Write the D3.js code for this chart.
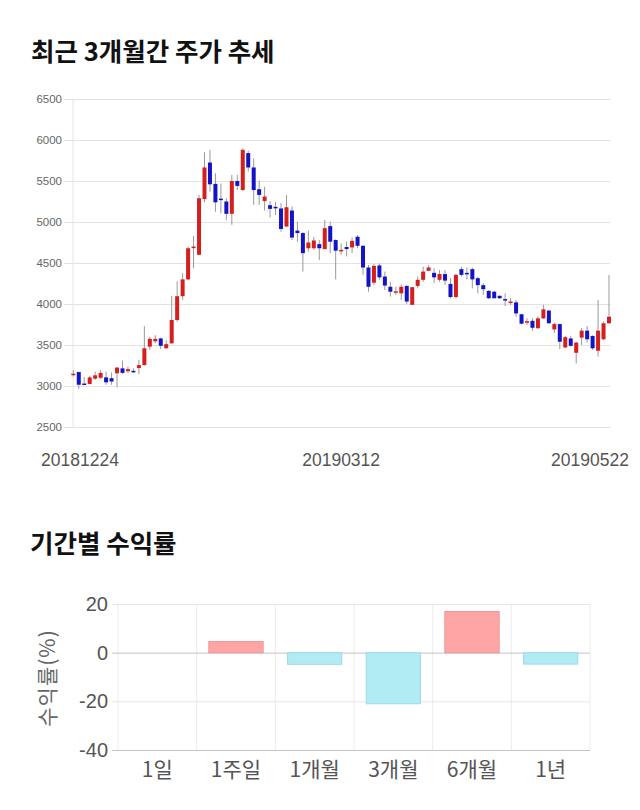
<!DOCTYPE html>
<html><head><meta charset="utf-8">
<script src="https://cdn.jsdelivr.net/npm/d3@7"></script>
<style>body{margin:0;background:#fff} svg{display:block}</style>
</head><body>
<svg id="c" width="640" height="810"></svg>
<script>
const dateLabels = ["20181224","20190312","20190522"];
const dateIdx = [0,49,98];
const opens = [3145,3170,3030,3025,3090,3100,3105,3095,3155,3215,
3180,3185,3220,3255,3480,3545,3580,3460,3520,3805,
4095,4300,4695,4600,5280,5725,5465,5285,5250,5100,
5500,5390,5840,5665,5400,5255,5205,5185,5165,4945,
5140,4895,4865,4680,4680,4730,4670,4950,4780,4660,
4695,4690,4820,4710,4445,4260,4470,4335,4210,4150,
4130,4220,3990,4220,4295,4405,4380,4295,4365,4245,
4085,4425,4380,4425,4315,4230,4160,4150,4100,4060,
4015,4020,3875,3780,3795,3705,3825,3920,3690,3755,
3470,3580,3405,3590,3675,3610,3430,3570,3765];
const closes = [3150,3015,3020,3105,3130,3160,3045,3055,3225,3160,
3205,3180,3255,3460,3575,3575,3490,3510,3805,4095,
4300,4680,4700,5290,5665,5460,5240,5275,5100,5500,
5440,5880,5665,5390,5330,5310,5160,5170,4915,5180,
4810,4865,4620,4750,4775,4680,4925,4760,4650,4660,
4670,4770,4710,4445,4210,4465,4325,4225,4150,4155,
4210,4030,4205,4295,4395,4445,4325,4365,4285,4085,
4355,4355,4370,4300,4230,4180,4070,4070,4070,4045,
4030,3885,3760,3790,3710,3825,3935,3765,3755,3540,
3595,3490,3530,3675,3570,3460,3675,3765,3845];
const highs = [3195,3175,3110,3125,3175,3195,3175,3165,3230,3310,
3235,3215,3320,3730,3600,3620,3590,3560,4100,4275,
4375,4700,4830,5330,5850,5880,5595,5470,5290,5575,
5575,5900,5870,5775,5505,5430,5255,5245,5230,5330,
5190,5005,4880,4895,4820,4780,5025,5005,4790,4740,
4760,4810,4840,4715,4475,4485,4495,4395,4270,4210,
4240,4230,4210,4335,4455,4475,4435,4415,4415,4315,
4370,4455,4445,4445,4335,4255,4170,4160,4105,4130,
4070,4050,3880,3825,3825,3850,3990,3925,3775,3760,
3610,3610,3535,3705,3730,3620,4050,3785,4355];
const lows = [3115,2965,3015,3020,3075,3085,3015,3015,2985,3150,
3160,3160,3145,3250,3440,3520,3450,3455,3515,3785,
4050,4295,4435,4595,5240,5370,5125,5105,5025,4965,
5390,5380,5615,5210,5210,5140,5055,5085,4880,4940,
4780,4760,4395,4640,4660,4535,4665,4620,4300,4600,
4580,4620,4680,4355,4150,4230,4295,4170,4090,4110,
4050,4000,3985,4190,4270,4400,4255,4270,4230,4070,
4070,4335,4300,4190,4130,4110,4060,4070,4060,3975,
3990,3845,3750,3745,3675,3695,3815,3760,3645,3450,
3460,3480,3275,3500,3530,3440,3360,3560,3760];
const priceTicks = [2500,3000,3500,4000,4500,5000,5500,6000,6500];

const periods = ["1일","1주일","1개월","3개월","6개월","1년"];
const returns = [0,4.55,-4.8,-21.0,16.9,-4.7];
const returnTicks = [20,0,-20,-40];

const svg = d3.select("#c");
const KR = "'Noto Sans CJK KR','Noto Sans',sans-serif";
const LAT = "'Liberation Sans',Arial,sans-serif";

// ---------- Title 1
svg.append("text").attr("x",31).attr("y",61).text("최근 3개월간 주가 추세")
  .attr("font-family",KR).attr("font-weight","bold").attr("font-size",25.5).attr("fill","#111");

// ---------- Candle chart
const idx = d3.range(opens.length);
const x = d3.scalePoint().domain(idx).range([73.3,609]);
const y = d3.scaleLinear().domain([2500,6500]).range([427,99]);

const gy = svg.append("g").attr("transform","translate(610,0)")
  .call(d3.axisLeft(y).tickValues(priceTicks).tickSize(546).tickPadding(2).tickFormat(d=>String(d)));
gy.select(".domain").remove();
gy.selectAll(".tick line").attr("stroke","#e3e3e3");
gy.selectAll(".tick text").attr("font-family",LAT).attr("font-size",11.5).attr("fill","#666");

svg.append("line").attr("x1",73).attr("x2",73).attr("y1",99).attr("y2",427).attr("stroke","#e6e6e6");

const gc = svg.append("g");
gc.selectAll("line.w").data(idx).join("line").attr("class","w")
  .attr("x1",i=>x(i)).attr("x2",i=>x(i))
  .attr("y1",i=>y(highs[i])).attr("y2",i=>y(lows[i]))
  .attr("stroke","#999").attr("stroke-width",1);
gc.selectAll("rect").data(idx).join("rect")
  .attr("x",i=>x(i)-2).attr("width",4)
  .attr("y",i=>y(Math.max(opens[i],closes[i])))
  .attr("height",i=>Math.max(1.5, Math.abs(y(opens[i])-y(closes[i]))))
  .attr("fill",i=> closes[i]>=opens[i] ? "#d41f1f" : "#1414c4");

svg.append("g").selectAll("text").data(dateIdx).join("text")
  .attr("x",(d,k)=>{ const cx=x(d); const w=80; return Math.min(630-w/2, Math.max(40+w/2, cx)); })
  .attr("y",466).attr("text-anchor","middle")
  .attr("font-family",LAT).attr("font-size",17.5).attr("fill","#555")
  .text((d,k)=>dateLabels[k]);

// ---------- Title 2
svg.append("text").attr("x",30).attr("y",553).text("기간별 수익률")
  .attr("font-family",KR).attr("font-weight","bold").attr("font-size",25.5).attr("fill","#111");

// ---------- Bar chart
const bx = d3.scaleBand().domain(periods).range([118,590]).paddingInner(0.31).paddingOuter(0.155);
const by = d3.scaleLinear().domain([-40,20]).range([750,604]);

const gv = svg.append("g");
const step = bx.step();
gv.selectAll("line").data(d3.range(periods.length+1)).join("line")
  .attr("x1",k=>118+k*step).attr("x2",k=>118+k*step)
  .attr("y1",604).attr("y2",750).attr("stroke","#ececec");

const gby = svg.append("g").attr("transform","translate(590,0)")
  .call(d3.axisLeft(by).tickValues(returnTicks).tickSize(478).tickPadding(4).tickFormat(d=>String(d)));
gby.select(".domain").remove();
gby.selectAll(".tick line").attr("stroke",d=> (d===0||d===-40) ? "#c4c4c4" : "#e6e6e6");
gby.selectAll(".tick text").attr("font-family",LAT).attr("font-size",20).attr("fill","#555");

svg.append("g").selectAll("rect").data(periods).join("rect")
  .attr("x",p=>bx(p)).attr("width",bx.bandwidth())
  .attr("y",(p,i)=>by(Math.max(0,returns[i])))
  .attr("height",(p,i)=>Math.abs(by(returns[i])-by(0)))
  .attr("fill",(p,i)=>returns[i]>=0 ? "#ffa5a5" : "#b1ebf3")
  .attr("stroke",(p,i)=>returns[i]>=0 ? "#f29494" : "#9fdbe4")
  .attr("stroke-width",1);

const gbx = svg.append("g").attr("transform","translate(0,750)")
  .call(d3.axisBottom(bx).tickSize(0).tickPadding(12));
gbx.select(".domain").remove();
gbx.selectAll(".tick text").attr("font-family",KR).attr("font-size",21).attr("fill","#555");

svg.append("text").attr("transform","translate(55,678) rotate(-90)")
  .attr("text-anchor","middle").attr("font-family",KR).attr("font-size",21).attr("fill","#666")
  .attr("letter-spacing",1)
  .text("수익률(%)");
</script>
</body></html>
